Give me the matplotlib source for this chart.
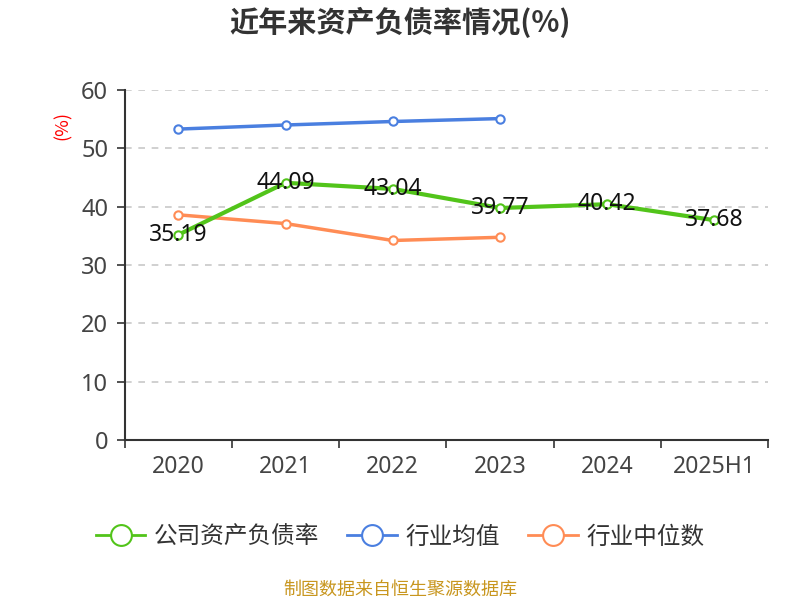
import matplotlib
matplotlib.use("Agg")
import matplotlib.pyplot as plt
from matplotlib.lines import Line2D

plt.rcParams['font.family'] = ['Noto Sans CJK SC', 'DejaVu Sans']
NUMFONT = ['Noto Sans', 'DejaVu Sans']

categories = ["2020", "2021", "2022", "2023", "2024", "2025H1"]
company = [35.19, 44.09, 43.04, 39.77, 40.42, 37.68]
industry_avg = [53.3, 54.0, 54.6, 55.1]
industry_median = [38.6, 37.1, 34.2, 34.75]
yticks = [0, 10, 20, 30, 40, 50, 60]

green = "#52c41a"
blue = "#4a7fe0"
orange = "#ff8c55"

fig = plt.figure(figsize=(8, 6), dpi=100)
ax = fig.add_axes([0.156, 0.2667, 0.804, 0.5833])

x = list(range(len(categories)))
mk = dict(marker='o', markersize=6, markerfacecolor='white', markeredgewidth=1.5)
ax.plot(x[:len(industry_avg)], industry_avg, color=blue, lw=2.5, markeredgecolor=blue, zorder=3, **mk)
ax.plot(x[:len(industry_median)], industry_median, color=orange, lw=2.5, markeredgecolor=orange, zorder=3, **mk)
ax.plot(x, company, color=green, lw=3, markeredgecolor=green, zorder=4, **mk)

for xi, v in zip(x, company):
    ax.text(xi, v, f"{v:.2f}", ha='center', va='center', fontsize=16.5, color='#111111', zorder=5, family=NUMFONT)

ax.set_xlim(-0.5, len(categories) - 0.5)
ax.set_ylim(0, 60)
ax.set_yticks(yticks)
ax.set_yticklabels([str(t) for t in yticks], fontsize=17, color='#444444', family=NUMFONT)
ax.set_xticks([i - 0.5 for i in range(len(categories) + 1)], minor=False)
ax.set_xticklabels([])
ax.set_xticks(x, minor=True)
ax.set_xticklabels(categories, minor=True, fontsize=16.5, color='#444444', family=NUMFONT)
ax.tick_params(axis='x', which='minor', length=0, pad=11)
ax.tick_params(axis='x', which='major', length=6, color='#333333', width=1.2)
ax.tick_params(axis='y', length=6, color='#333333', width=1.2, pad=6)

ax.grid(axis='y', linestyle=(0, (4, 4)), color='#c8c8c8', lw=1.2)
for s in ['top', 'right']:
    ax.spines[s].set_visible(False)
ax.spines['left'].set_color('#333333')
ax.spines['left'].set_linewidth(1.5)
ax.spines['bottom'].set_color('#333333')
ax.spines['bottom'].set_linewidth(1.5)

fig.text(0.078, 0.79, "(%)", rotation=90, color='red', fontsize=13, ha='center', va='center')

fig.text(0.5, 0.962, "近年来资产负债率情况(%)", ha='center', va='center', fontsize=21, fontweight='bold', color='#333333')

handles = [
    Line2D([0], [0], color=c, lw=2, marker='o', markersize=15, markerfacecolor='white', markeredgecolor=c, markeredgewidth=1.5)
    for c in (green, blue, orange)
]
leg = fig.legend(handles, ["公司资产负债率", "行业均值", "行业中位数"], loc='center', bbox_to_anchor=(0.5, 0.105),
                 ncol=3, frameon=False, fontsize=17, handlelength=2.1, columnspacing=1.2, handletextpad=0.35)
for t in leg.get_texts():
    t.set_color('#333333')

fig.text(0.5, 0.018, "制图数据来自恒生聚源数据库", ha='center', va='center', fontsize=13, color='#c8961e')

fig.savefig("out.png", dpi=100)
